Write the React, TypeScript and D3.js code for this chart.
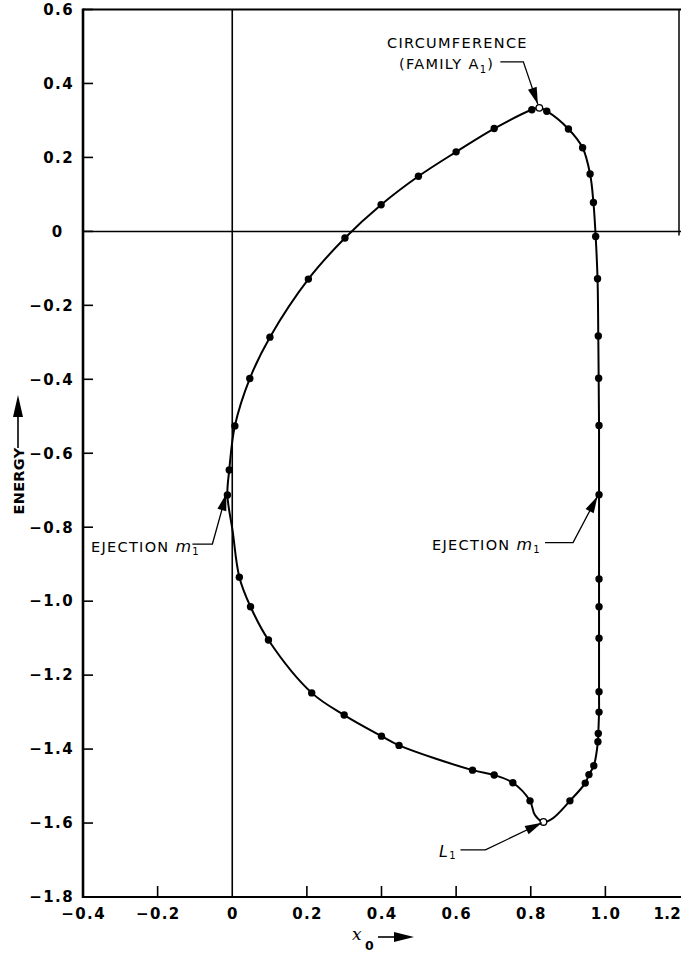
import React from 'react';
import * as d3 from 'd3';

// ---------- data ----------
const yTicks = [0.6, 0.4, 0.2, 0, -0.2, -0.4, -0.6, -0.8, -1.0, -1.2, -1.4, -1.6, -1.8];
const yTickLabels = ['0.6', '0.4', '0.2', '0', '−0.2', '−0.4', '−0.6', '−0.8', '−1.0', '−1.2', '−1.4', '−1.6', '−1.8'];
const xTicks = [-0.4, -0.2, 0, 0.2, 0.4, 0.6, 0.8, 1.0, 1.2];
const xTickLabels = ['−0.4', '−0.2', '0', '0.2', '0.4', '0.6', '0.8', '1.0', '1.2'];

// closed orbit-family curve: x0, energy, marker (1 = filled dot, 2 = open circle, 0 = curve vertex only)
const loopX = [
  0.823, 0.803, 0.702, 0.600, 0.499, 0.399, 0.302, 0.204, 0.101, 0.047, 0.007, -0.008, -0.013, 0.001,
  0.019, 0.049, 0.097, 0.213, 0.300, 0.400, 0.447, 0.644, 0.702, 0.752, 0.798, 0.811, 0.834, 0.858,
  0.905, 0.946, 0.956, 0.969, 0.980, 0.981, 0.983, 0.983, 0.983, 0.983, 0.983, 0.983, 0.983, 0.982,
  0.981, 0.979, 0.974, 0.968, 0.959, 0.939, 0.901, 0.843,
];
const loopE = [
  0.334, 0.329, 0.278, 0.215, 0.149, 0.072, -0.018, -0.129, -0.286, -0.398, -0.526, -0.645, -0.713, -0.810,
  -0.935, -1.015, -1.105, -1.248, -1.308, -1.365, -1.390, -1.457, -1.470, -1.491, -1.540, -1.578, -1.597, -1.588,
  -1.540, -1.492, -1.469, -1.445, -1.380, -1.358, -1.300, -1.245, -1.100, -1.015, -0.940, -0.712, -0.525, -0.397,
  -0.283, -0.128, -0.014, 0.078, 0.155, 0.226, 0.277, 0.325,
];
const loopMark = [
  2, 1, 1, 1, 1, 1, 1, 1, 1, 1, 1, 1, 1, 0,
  1, 1, 1, 1, 1, 1, 1, 1, 1, 1, 1, 0, 2, 0,
  1, 1, 1, 1, 1, 1, 1, 1, 1, 1, 1, 1, 1, 1,
  1, 1, 1, 1, 1, 1, 1, 1,
];

// annotated points (index into loop arrays)
const CIRC = 0;
const EJECT_LEFT = 12;
const EJECT_RIGHT = 39;
const L1 = 26;

const W = 681;
const H = 953;
const FONT = '"DejaVu Sans", Arial, sans-serif';

const xScale = d3.scaleLinear().domain([-0.4, 1.2]).range([83, 680]);
const yScale = d3.scaleLinear().domain([-1.8, 0.6]).range([897, 9.5]);

function arrowHead(x1: number, y1: number, x2: number, y2: number, len = 17, hw = 4.6) {
  const dx = x2 - x1, dy = y2 - y1;
  const d = Math.hypot(dx, dy) || 1;
  const ux = dx / d, uy = dy / d;
  const bx = x2 - ux * len, by = y2 - uy * len;
  const nx = -uy, ny = ux;
  return `M${x2},${y2}L${bx + nx * hw},${by + ny * hw}L${bx - nx * hw},${by - ny * hw}Z`;
}

function Leader({ pts }: { pts: [number, number][] }) {
  const n = pts.length;
  const [x1, y1] = pts[n - 2];
  const [x2, y2] = pts[n - 1];
  const line = d3.line()(pts as [number, number][]) || '';
  return (
    <g>
      <path d={line} fill="none" stroke="#000" strokeWidth={1.3} />
      <path d={arrowHead(x1, y1, x2, y2)} fill="#000" />
    </g>
  );
}

export default function App() {
  const pts: [number, number][] = loopX.map((x, i) => [xScale(x), yScale(loopE[i])]);
  const lineGen = d3.line().curve(d3.curveCatmullRomClosed.alpha(0.5));
  const pathD = lineGen(pts) || '';

  const x0 = xScale(0);
  const y0 = yScale(0);
  const left = xScale(-0.4);
  const bottom = yScale(-1.8);
  const top = yScale(0.6);
  const right = xScale(1.2);

  const [cx, cy] = pts[CIRC];
  const [elx, ely] = pts[EJECT_LEFT];
  const [erx, ery] = pts[EJECT_RIGHT];
  const [lx, ly] = pts[L1];

  return (
    <svg width={W} height={H} style={{ position: 'absolute', left: 0, top: 0, background: '#fff' }}
      fontFamily={FONT}>
      <rect x={0} y={0} width={W} height={H} fill="#fff" />
      {/* frame */}
      <line x1={left} y1={top} x2={W} y2={top} stroke="#000" strokeWidth={1.8} />
      <line x1={right - 1} y1={top} x2={right - 1} y2={y0 + 4} stroke="#000" strokeWidth={1.5} />
      <line x1={left} y1={top - 1} x2={left} y2={bottom + 1} stroke="#000" strokeWidth={2.6} />
      <line x1={left} y1={bottom} x2={W} y2={bottom} stroke="#000" strokeWidth={2.2} />
      {/* zero lines */}
      <line x1={left} y1={y0} x2={W} y2={y0} stroke="#000" strokeWidth={1.5} />
      <line x1={x0} y1={top} x2={x0} y2={bottom} stroke="#000" strokeWidth={1.6} />

      {/* y ticks */}
      {yTicks.map((t, i) => (
        <g key={'yt' + i}>
          <line x1={left} x2={left + 10} y1={yScale(t)} y2={yScale(t)} stroke="#000" strokeWidth={1.6} />
          <text x={t === 0 ? 63.5 : 74} y={yScale(t) + 5.3} textAnchor="end" fontSize={15}
            fontWeight="bold" letterSpacing={1.4}>{yTickLabels[i]}</text>
        </g>
      ))}
      {/* x ticks */}
      {xTicks.map((t, i) => {
        const last = i === xTicks.length - 1;
        return (
          <g key={'xt' + i}>
            {t > -0.4 && t < 1.2 && t !== 0 && (
              <line x1={xScale(t)} x2={xScale(t)} y1={bottom} y2={bottom - 11} stroke="#000" strokeWidth={1.6} />
            )}
            <text x={last ? W : xScale(t) + 0.7} y={918.5} textAnchor={last ? 'end' : 'middle'} fontSize={15}
              fontWeight="bold" letterSpacing={last ? 0.3 : 1.4}>{xTickLabels[i]}</text>
          </g>
        );
      })}

      {/* axis titles */}
      <text transform={`translate(24,481) rotate(-90)`} textAnchor="middle" fontSize={14.5}
        fontWeight="bold" letterSpacing={0.3}>ENERGY</text>
      <line x1={18} y1={448} x2={18} y2={414} stroke="#000" strokeWidth={1.6} />
      <path d={arrowHead(18, 448, 18, 395, 22, 5)} fill="#000" />

      <text x={352} y={940} fontSize={17} fontStyle="italic" fontFamily='"DejaVu Serif", serif'>x</text>
      <text x={365} y={949.5} fontSize={12.5} fontWeight="bold">0</text>
      <line x1={378} y1={937} x2={398} y2={937} stroke="#000" strokeWidth={1.6} />
      <path d={arrowHead(378, 937, 414, 937, 20, 5)} fill="#000" />

      {/* curve */}
      <path d={pathD} fill="none" stroke="#000" strokeWidth={2} />
      {pts.map(([px, py], i) =>
        loopMark[i] === 1 ? <circle key={'p' + i} cx={px} cy={py} r={3.7} fill="#000" /> : null
      )}
      {pts.map(([px, py], i) =>
        loopMark[i] === 2 ? (
          <circle key={'o' + i} cx={px} cy={py} r={3.3} fill="#fff" stroke="#000" strokeWidth={1.3} />
        ) : null
      )}

      {/* annotations */}
      <g fontSize={14.5} letterSpacing={1.3}>
        <text x={387} y={47.5}>CIRCUMFERENCE</text>
        <text x={399} y={68.5}>(FAMILY A<tspan fontSize={10} dy={4}>1</tspan><tspan dy={-4}>)</tspan></text>
        <Leader pts={[[cx - 39, cy - 46], [cx - 16, cy - 46], [cx - 1.5, cy - 3.5]]} />

        <text x={91} y={552}>EJECTION <tspan fontStyle="italic" fontSize={16}>m</tspan><tspan fontSize={10} dy={3}>1</tspan></text>
        <Leader pts={[[elx - 35, ely + 49], [elx - 15, ely + 49], [elx - 1, ely - 1.5]]} />

        <text x={541} y={550} textAnchor="end">EJECTION <tspan fontStyle="italic" fontSize={16}>m</tspan><tspan fontSize={10} dy={3}>1</tspan></text>
        <Leader pts={[[erx - 54, ery + 48], [erx - 26, ery + 48], [erx - 1.5, ery + 1.5]]} />

        <text x={439} y={857} fontStyle="italic" fontSize={16}>L<tspan fontStyle="normal" fontSize={10} dy={2}>1</tspan></text>
        <Leader pts={[[lx - 83, ly + 28], [lx - 58, ly + 28], [lx - 1.5, ly + 0.8]]} />
      </g>
    </svg>
  );
}
